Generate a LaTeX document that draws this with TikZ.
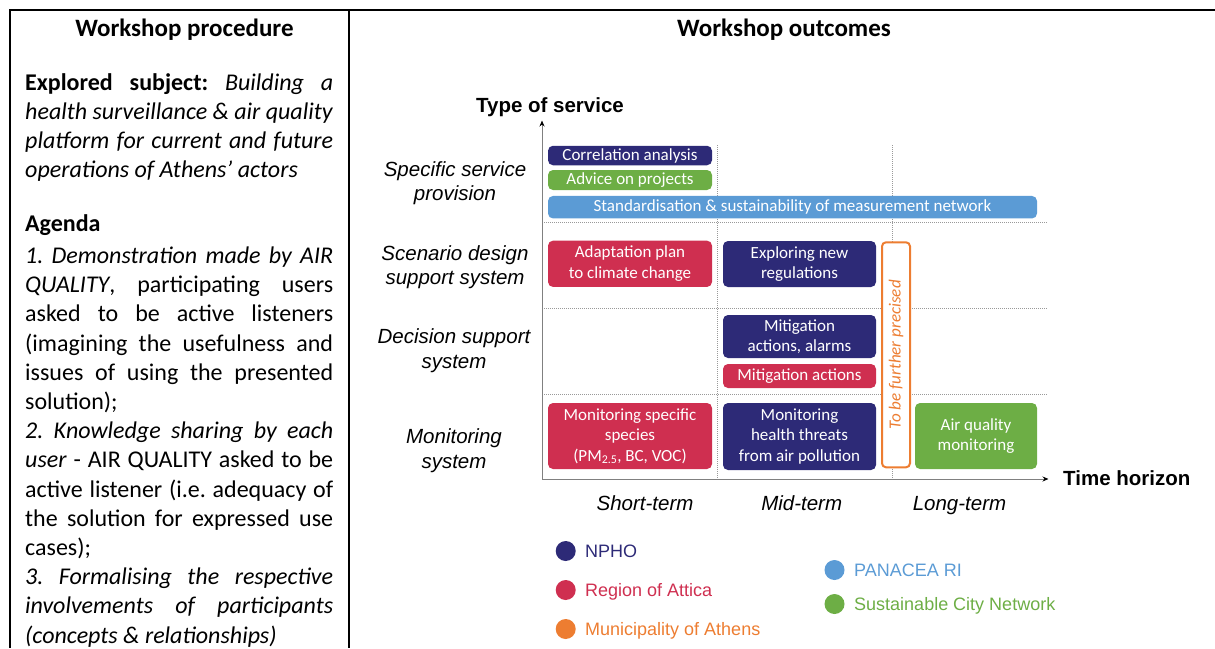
\documentclass[tikz,border=0pt]{standalone}
\usepackage{fontspec}
\setmainfont{Carlito}
\newfontfamily\arialf{Liberation Sans}
\usetikzlibrary{arrows.meta}
\frenchspacing
\definecolor{navy}{HTML}{2D2A77}
\definecolor{rbox}{HTML}{CF2F50}
\definecolor{gbox}{HTML}{6DAE45}
\definecolor{bbox}{HTML}{5B9BD5}
\definecolor{obox}{HTML}{ED7D31}
\definecolor{axisgray}{HTML}{808080}
\tikzset{
  lp/.style={inner sep=0pt, font=\fontsize{24}{29.2}\selectfont, anchor=base west},
  ttl/.style={inner sep=0pt, font=\fontsize{25}{29.2}\selectfont\bfseries, anchor=base},
  bx/.style={rounded corners=5pt, inner sep=0pt, text=white, font=\fontsize{17}{20.5}\selectfont, align=center},
  rowlab/.style={inner sep=0pt, font=\arialf\itshape\fontsize{20.5}{24.5}\selectfont, anchor=base},
  axlab/.style={inner sep=0pt, font=\arialf\bfseries\fontsize{20.5}{24.5}\selectfont},
  leg/.style={inner sep=0pt, font=\arialf\fontsize{18}{21}\selectfont, anchor=base west},
  dot/.style={circle, inner sep=0pt, minimum size=20pt},
  gridl/.style={gray!80, line width=0.6pt, dash pattern=on 1pt off 1pt},
  tbl/.style={black, line width=2pt},
}
\newcommand\jl[3]{\node[lp] (#1) at (25,#2) {\makebox[308pt][s]{#3}};}
\newcommand\fl[3]{\node[lp] (#1) at (25,#2) {#3};}
\begin{document}
\begin{tikzpicture}[x=1pt,y=-1pt]
\useasboundingbox (0,0) rectangle (1215,648);
\clip (0,0) rectangle (1215,648);
% table lines
\coordinate (tl) at (9,10);
\coordinate (tr) at (1215,10);
\coordinate (lb) at (10,648);
\coordinate (lt) at (10,9);
\coordinate (mt) at (349,10);
\coordinate (mb) at (349,648);
\draw[tbl] (tl) -- (tr);
\draw[tbl] (lt) -- (lb);
\draw[tbl] (mt) -- (mb);
% titles
\node[ttl] (t1) at (184.5,36.7) {Workshop procedure};
\node[ttl] (t2) at (784,36.7) {Workshop outcomes};
% left panel
\jl{a1}{90}{\textbf{Explored subject:} \textit{Building a}}
\jl{a2}{119.2}{\textit{health surveillance \& air quality}}
\jl{a3}{148.4}{\textit{platform for current and future}}
\fl{a4}{177.6}{\textit{operations of Athens’ actors}}
\fl{ag}{231.7}{\textbf{Agenda}}
\jl{b1}{263.5}{\textit{1. Demonstration made by AIR}}
\jl{b2}{292.7}{\textit{QUALITY}, participating users}
\jl{b3}{321.9}{asked to be active listeners}
\jl{b4}{351.1}{(imagining the usefulness and}
\jl{b5}{380.3}{issues of using the presented}
\fl{b6}{409.5}{solution);}
\jl{b7}{438.7}{\textit{2. Knowledge sharing by each}}
\jl{b8}{467.9}{\textit{user} - AIR QUALITY asked to be}
\jl{b9}{497.1}{active listener (i.e. adequacy of}
\jl{b10}{526.3}{the solution for expressed use}
\fl{b11}{555.5}{cases);}
\jl{b12}{584.7}{\textit{3. Formalising the respective}}
\jl{b13}{613.9}{\textit{involvements of participants}}
\fl{b14}{643.1}{\textit{(concepts \& relationships)}}
% grid
\coordinate (o) at (542,479);
\coordinate (ytop) at (542,120.5);
\coordinate (xend) at (1048.5,479);
\coordinate (h1a) at (542,222.5); \coordinate (h1b) at (1048,222.5);
\coordinate (h2a) at (542,308.5); \coordinate (h2b) at (1048,308.5);
\coordinate (h3a) at (542,394);   \coordinate (h3b) at (1048,394);
\coordinate (v1a) at (717,145);   \coordinate (v1b) at (717,479);
\coordinate (v2a) at (892,145);   \coordinate (v2b) at (892,479);
\draw[gridl] (h1a) -- (h1b);
\draw[gridl] (h2a) -- (h2b);
\draw[gridl] (h3a) -- (h3b);
\draw[gridl] (v1a) -- (v1b);
\draw[gridl] (v2a) -- (v2b);
\draw[axisgray, line width=1pt, -{Stealth[length=6pt,width=5pt,black]}] (o) -- (ytop);
\draw[axisgray, line width=1pt, -{Stealth[length=6pt,width=5pt,black]}] (o) -- (xend);
% axis labels
\node[axlab, anchor=base] (ty) at (550,112.7) {Type of service};
\node[axlab, anchor=base west] (th) at (1063,485.7) {Time horizon};
% row labels
\node[rowlab] (r1a) at (455,176) {Specific service};
\node[rowlab] (r1b) at (455,200) {provision};
\node[rowlab] (r2a) at (455,260) {Scenario design};
\node[rowlab] (r2b) at (455,284) {support system};
\node[rowlab] (r3a) at (454,343.3) {Decision support};
\node[rowlab] (r3b) at (454,368.3) {system};
\node[rowlab] (r4a) at (454,443.3) {Monitoring};
\node[rowlab] (r4b) at (454,468.3) {system};
% column labels
\node[rowlab] (c1) at (645,510.7) {Short-term};
\node[rowlab] (c2) at (801.7,510.7) {Mid-term};
\node[rowlab] (c3) at (959.5,510.7) {Long-term};
% boxes
\node[bx, fill=navy, minimum width=164pt, minimum height=19.5pt] (corr) at (630,155.5) {Correlation analysis};
\node[bx, fill=gbox, minimum width=164pt, minimum height=20pt] (adv) at (630,180) {Advice on projects};
\node[bx, fill=bbox, minimum width=489pt, minimum height=22.5pt] (std) at (792.5,207.2) {Standardisation \& sustainability of measurement network};
\node[bx, fill=rbox, minimum width=164pt, minimum height=46.3pt] (adapt) at (630,263.8) {Adaptation plan\\to climate change};
\node[bx, fill=navy, minimum width=153pt, minimum height=46pt] (expl) at (799.5,264) {Exploring new\\regulations};
\node[bx, fill=navy, minimum width=153pt, minimum height=43pt] (mital) at (799.5,336.5) {Mitigation\\actions, alarms};
\node[bx, fill=rbox, minimum width=153pt, minimum height=24pt] (mitac) at (799.5,376) {Mitigation actions};
\node[bx, fill=rbox, minimum width=164pt, minimum height=66pt] (monsp) at (630,436) {Monitoring specific\\species\\(PM\textsubscript{2.5}, BC, VOC)};
\node[bx, fill=navy, minimum width=153pt, minimum height=67pt] (monhe) at (799.5,436.5) {Monitoring\\health threats\\from air pollution};
\node[bx, fill=gbox, minimum width=122pt, minimum height=66pt] (airq) at (976,436) {Air quality\\monitoring};
\node[rounded corners=4pt, draw=obox, line width=2pt, fill=white, inner sep=0pt, minimum width=28pt, minimum height=225pt] (tbfp) at (896,354.8) {};
\node[inner sep=0pt, rotate=90, text=obox, font=\itshape\fontsize{17}{20}\selectfont] (tbfpt) at (tbfp.center) {To be further precised};
% legend
\node[dot, fill=navy] (d1) at (565.7,551) {};
\node[leg, text=navy] (l1) at (585,557.5) {NPHO};
\node[dot, fill=rbox] (d2) at (565.7,590) {};
\node[leg, text=rbox] (l2) at (585,596.5) {Region of Attica};
\node[dot, fill=obox] (d3) at (565.7,629) {};
\node[leg, text=obox] (l3) at (585,635.5) {Municipality of Athens};
\node[dot, fill=bbox] (d4) at (834.5,570) {};
\node[leg, text=bbox] (l4) at (854,576.5) {PANACEA RI};
\node[dot, fill=gbox] (d5) at (834.5,604) {};
\node[leg, text=gbox] (l5) at (854,610.5) {Sustainable City Network};
\end{tikzpicture}
\end{document}
